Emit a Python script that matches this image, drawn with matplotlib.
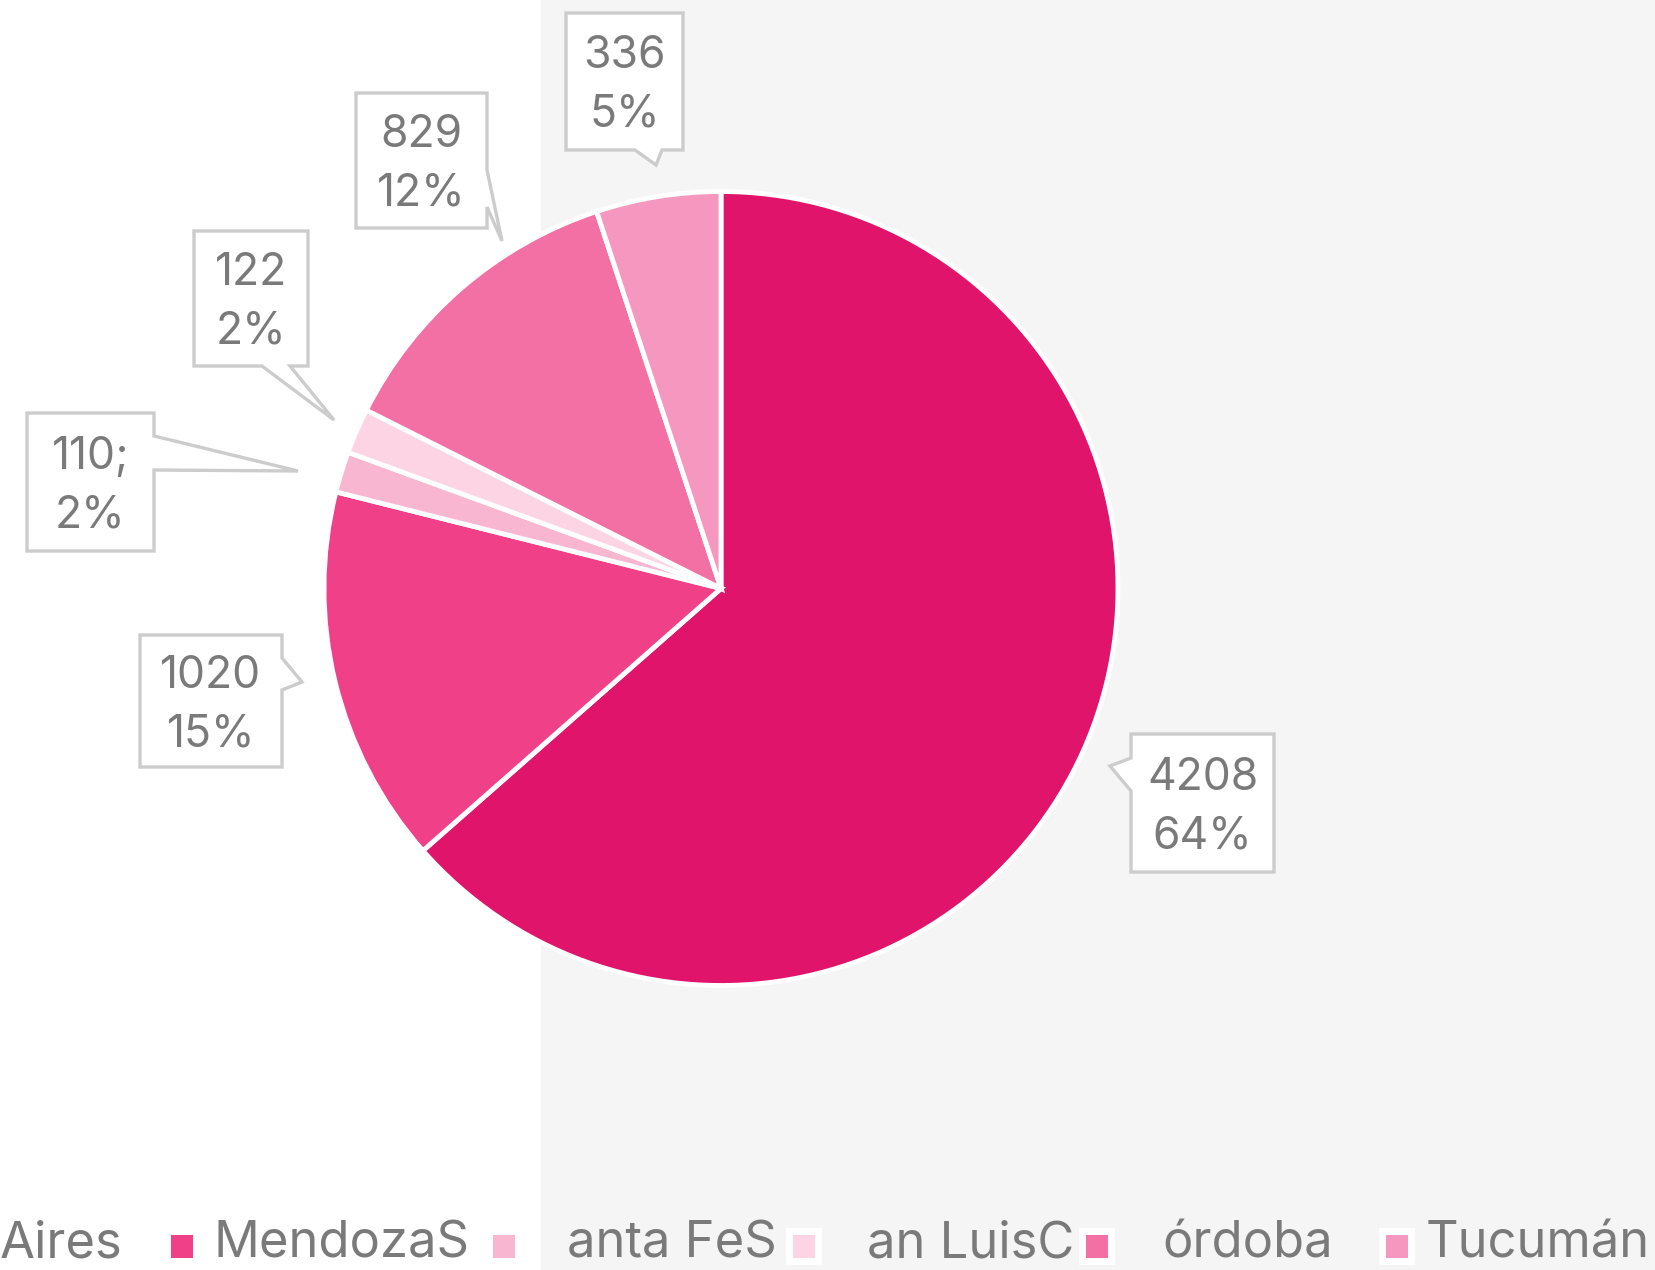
import matplotlib.pyplot as plt
from matplotlib.patches import Polygon, Rectangle

plt.rcParams['font.family'] = ['Inter', 'DejaVu Sans']

# Data
provinces = ["Buenos Aires", "Mendoza", "Santa Fe", "San Luis", "Córdoba", "Tucumán"]
values = [4208, 1020, 110, 122, 829, 336]
value_labels = ["4208", "1020", "110;", "122", "829", "336"]
pct_labels = ["64%", "15%", "2%", "2%", "12%", "5%"]
colors = ["#e0146a", "#f04188", "#f8b6d1", "#fcd4e4", "#f270a4", "#f597bf"]
legend_texts = ["Aires", "MendozaS", "anta FeS", "an LuisC", "órdoba", "Tucumán"]

W, H = 1655, 1270
TEXT = "#7a7a7a"
EDGE = "#cccccc"

fig = plt.figure(figsize=(W / 100, H / 100), dpi=100)
fig.patch.set_facecolor("#f5f5f5")

# background strip (white on the left)
bg = fig.add_axes([0, 0, 1, 1], zorder=0)
bg.set_xlim(0, W)
bg.set_ylim(H, 0)
bg.axis("off")
bg.add_patch(Rectangle((0, 0), 541, H, facecolor="white", edgecolor="none"))

# pie
cx, cy, r = 721, 588.5, 397
ax = fig.add_axes([(cx - r) / W, (H - cy - r) / H, 2 * r / W, 2 * r / H], zorder=1)
ax.pie(values, colors=colors, startangle=90, counterclock=False,
       wedgeprops=dict(edgecolor="white", linewidth=3.5))
ax.set_xlim(-1, 1)
ax.set_ylim(-1, 1)
ax.axis("off")

# overlay for callouts and legend (pixel coordinates)
ov = fig.add_axes([0, 0, 1, 1], zorder=2)
ov.set_xlim(0, W)
ov.set_ylim(H, 0)
ov.axis("off")
ov.patch.set_alpha(0)

# callout outlines: box (x0, y0, x1, y1) and pointer outline
callouts = {
    "Buenos Aires": ((1131, 734, 1274, 872), [(1131, 734), (1274, 734), (1274, 872), (1131, 872),
                                              (1131, 791), (1110, 766), (1131, 758)]),
    "Mendoza": ((140, 635, 282, 767), [(140, 635), (282, 635), (282, 658), (302, 682),
                                       (282, 690), (282, 767), (140, 767)]),
    "Santa Fe": ((27, 413, 154, 551), [(27, 413), (154, 413), (154, 436), (298, 471),
                                       (154, 470), (154, 551), (27, 551)]),
    "San Luis": ((194, 231, 308, 366), [(194, 231), (308, 231), (308, 366), (290, 366),
                                        (334, 420), (262, 366), (194, 366)]),
    "Córdoba": ((356, 93, 487, 228), [(356, 93), (487, 93), (487, 170), (502, 241),
                                      (487, 207), (487, 228), (356, 228)]),
    "Tucumán": ((566, 13, 683, 150), [(566, 13), (683, 13), (683, 150), (662, 150),
                                      (656, 165), (635, 150), (566, 150)]),
}

for name, val, pct in zip(provinces, value_labels, pct_labels):
    (x0, y0, x1, y1), outline = callouts[name]
    ov.add_patch(Polygon(outline, closed=True, facecolor="white", edgecolor=EDGE,
                         linewidth=2.4, joinstyle="miter"))
    ov.text((x0 + x1) / 2, (y0 + y1) / 2 + 4, f"{val}\n{pct}", ha="center", va="center",
            fontsize=32, color=TEXT, linespacing=1.5)

# legend (shifted labels as in the original)
marker_x = [None, 181, 503, 803, 1096, 1396]
text_x = [0, 214, 567, 867, 1162, 1426]
for i, (txt, col) in enumerate(zip(legend_texts, colors)):
    if marker_x[i] is not None:
        ov.add_patch(Rectangle((marker_x[i] - 14.5, 1246 - 15), 29, 30, facecolor=col,
                               edgecolor="white", linewidth=5))
    ov.text(text_x[i], 1258, txt, ha="left", va="baseline", fontsize=36.5, color=TEXT)

fig.savefig("out.png", dpi=100)
